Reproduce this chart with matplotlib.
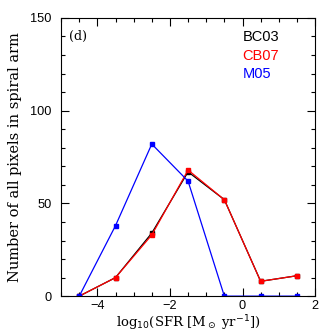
import matplotlib
matplotlib.use("Agg")
import matplotlib.pyplot as plt
from matplotlib.ticker import MultipleLocator

log_sfr = [-4.5, -3.5, -2.5, -1.5, -0.5, 0.5, 1.5]
bc03 = [0, 10, 34, 67, 52, 8, 11]
cb07 = [0, 10, 33, 68, 52, 8, 11]
m05 = [0, 38, 82, 62, 0, 0, 0]
series_names = ["BC03", "CB07", "M05"]
series_colors = ["black", "red", "blue"]

fig = plt.figure(figsize=(3.32, 3.32), dpi=100)
ax = fig.add_axes([0.184, 0.108, 0.765, 0.838])

for vals, col in zip([bc03, cb07, m05], series_colors):
    ax.plot(log_sfr, vals, color=col, lw=0.9, marker="s", ms=2.8,
            mec=col, mfc=col)

ax.set_xlim(-5, 2)
ax.set_ylim(0, 150)
ax.xaxis.set_major_locator(MultipleLocator(2))
ax.xaxis.set_minor_locator(MultipleLocator(0.5))
ax.yaxis.set_major_locator(MultipleLocator(50))
ax.yaxis.set_minor_locator(MultipleLocator(10))
ax.tick_params(which="both", direction="in", top=True, right=True,
               labelsize=9.2)
ax.tick_params(axis="x", pad=3)
ax.tick_params(axis="y", pad=7)
ax.tick_params(which="major", length=6, width=0.8)
ax.tick_params(which="minor", length=3, width=0.8)
for lab in ax.get_xticklabels() + ax.get_yticklabels():
    lab.set_family("Liberation Sans")
for s in ax.spines.values():
    s.set_linewidth(0.8)

ax.set_xlabel(r"log$_{10}$(SFR [M$_\odot$ yr$^{-1}$])", family="DejaVu Serif",
              fontsize=9.5, va="center")
ax.xaxis.set_label_coords(0.5, -0.097)
ax.set_ylabel("Number of all pixels in spiral arm", family="DejaVu Serif",
              fontsize=10.5, va="center")
ax.yaxis.set_label_coords(-0.181, 0.5)

ax.text(0.03, 0.955, "(d)", transform=ax.transAxes, family="DejaVu Serif",
        fontsize=9, va="top", ha="left")
for i, (name, col) in enumerate(zip(series_names, series_colors)):
    ax.text(0.715, 0.957 - i * 0.067, name, transform=ax.transAxes,
            color=col, family="Liberation Sans", fontsize=10.5,
            va="top", ha="left")

fig.savefig("out.png", dpi=100)
